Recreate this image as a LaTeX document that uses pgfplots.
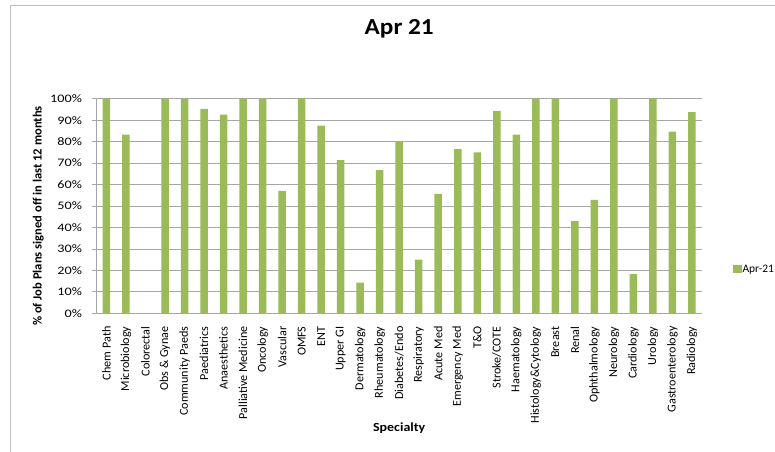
\documentclass[border=0pt]{standalone}
\usepackage{pgfplots}
\pgfplotsset{compat=1.18}
\usepackage{pgfplotstable}
\usepackage{fontspec}
\setmainfont{Carlito}

\definecolor{bargreen}{HTML}{9BBB59}
\definecolor{gridgray}{HTML}{A6A6A6}
\definecolor{framegray}{HTML}{BFBFBF}

% Share of job plans signed off, one row per specialty
\pgfplotstableread{
idx pct
0  100
1  83.3
2  0
3  100
4  100
5  95.2
6  92.6
7  100
8  100
9  57.1
10 100
11 87.5
12 71.4
13 14.3
14 66.7
15 80
16 25
17 55.6
18 76.5
19 75
20 94.3
21 83.3
22 100
23 100
24 42.9
25 52.9
26 100
27 18.2
28 100
29 84.6
30 93.8
}\aprdata

\begin{document}
\begin{tikzpicture}
\useasboundingbox (0,0) rectangle (775bp,452bp);
% chart frame (top and left edges)
\draw[framegray, line width=1bp] (10.5bp,0) -- (10.5bp,446bp) -- (775bp,446bp);
\begin{axis}[
  at={(96.7bp,138.7bp)}, anchor=south west,
  scale only axis,
  width=605bp, height=214.6bp,
  xmin=-0.5, xmax=30.5,
  ymin=0, ymax=100,
  axis x line*=bottom, axis y line*=left,
  axis line style={gridgray, line width=0.8bp},
  tick align=outside,
  xtick=data,
  major x tick style={draw=none},
  xticklabels={Chem Path, Microbiology, Colorectal, Obs \& Gynae, Community Paeds, Paediatrics, Anaesthetics, Palliative Medicine, Oncology, Vascular, OMFS, ENT, Upper GI, Dermatology, Rheumatology, Diabetes/Endo, Respiratory, Acute Med, Emergency Med, T\&O, Stroke/COTE, Haematology, Histology\&Cytology, Breast, Renal, Ophthalmology, Neurology, Cardiology, Urology, Gastroenterology, Radiology},
  xticklabel style={rotate=90, anchor=east, inner sep=0pt, inner xsep=8bp, font=\fontsize{12.2}{14}\selectfont},
  extra x ticks={-0.5,0.5,...,30.5},
  extra x tick labels={},
  extra x tick style={major tick length=5bp, tick style={gridgray, line width=0.8bp}},
  ytick={0,10,...,100},
  yticklabel={\pgfmathprintnumber{\tick}\%},
  yticklabel style={anchor=east, inner sep=0pt, xshift=-9.5bp, font=\fontsize{11.5}{13}\selectfont, xscale=1.24},
  major y tick style={gridgray, line width=0.8bp},
  major tick length=5bp,
  ymajorgrids,
  grid style={gridgray, line width=0.8bp},
  /pgf/number format/assume math mode=true,
  ylabel={\% of Job Plans signed off in last 12 months},
  ylabel style={at={(axis description cs:-0.0965,0.453)}, anchor=center, rotate=0, font=\bfseries\fontsize{12.6}{14}\selectfont},
  xlabel={Specialty},
  xlabel style={at={(axis description cs:0.5,-0.535)}, anchor=center, font=\bfseries\fontsize{12.5}{14}\selectfont, xscale=1.12},
  title={Apr 21},
  title style={at={(axis description cs:0.5,1.297)}, anchor=center, font=\bfseries\fontsize{23}{26}\selectfont, xscale=1.1},
  legend style={at={(axis description cs:1.052,0.206)}, anchor=west, draw=none, fill=none, inner sep=0pt, font=\fontsize{11.5}{13}\selectfont, nodes={inner sep=0.8bp}},
  ybar, bar width=7.5bp,
]
\addplot[fill=bargreen, draw=none, bar shift=0pt,
  legend image code/.code={\fill[bargreen] (0bp,-4.2bp) rectangle (8.4bp,4.2bp);}]
  table[x=idx, y=pct] {\aprdata};
\addlegendentry{Apr-21}
\end{axis}
\end{tikzpicture}
\end{document}
